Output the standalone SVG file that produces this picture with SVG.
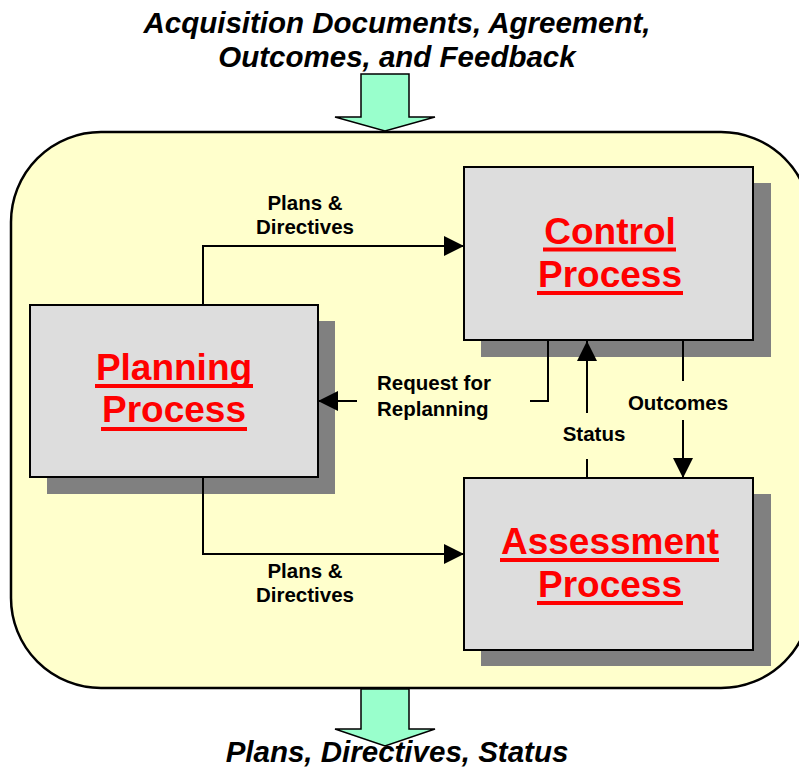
<svg xmlns="http://www.w3.org/2000/svg" width="799" height="767" viewBox="0 0 799 767">
<style>
.title{font-family:"Liberation Sans",Arial,sans-serif;font-weight:bold;font-style:italic;font-size:29.5px;fill:#000;text-anchor:middle}
.lbl{font-family:"Liberation Sans",Arial,sans-serif;font-weight:bold;font-size:20.5px;fill:#000}
.name{font-family:"Liberation Sans",Arial,sans-serif;font-weight:bold;font-size:37px;fill:#FF0000;text-anchor:middle}
.box{fill:#DDDDDD;stroke:#000;stroke-width:2}
.shadow{fill:#808080}
.ul{fill:#FF0000}
.ln{fill:none;stroke:#000;stroke-width:2}
.big{fill:#99FFCC;stroke:#000;stroke-width:1.5}
</style>
<defs>
<marker id="ah" viewBox="0 0 20 20" refX="20" refY="10" markerWidth="20" markerHeight="20" markerUnits="userSpaceOnUse" orient="auto">
<path d="M0,0 L20,10 L0,20 Z" fill="#000"/>
</marker>
</defs>
<rect x="11" y="132" width="800" height="556" rx="90" ry="90" fill="#FFFFCC" stroke="#000" stroke-width="2.5"/>
<g id="in-arrow">
<path class="big" d="M361,74 L409,74 L409,117 L435,117 L385,131 L335,117 L361,117 Z"/>
</g>
<g id="out-arrow">
<path class="big" d="M361,689 L409,689 L409,729 L435,729 L385,746 L335,729 L361,729 Z"/>
</g>
<text class="title" x="397" y="33">Acquisition Documents, Agreement,</text>
<text class="title" x="397" y="67">Outcomes, and Feedback</text>
<text class="title" x="397" y="762">Plans, Directives, Status</text>
<g id="control">
<rect class="shadow" x="481" y="183" width="290" height="174"/>
<rect class="box" x="464" y="167" width="289" height="173"/>
<text class="name" x="610" y="244">Control</text>
<rect class="ul" x="543" y="247.5" width="133" height="4"/>
<text class="name" x="610" y="287">Process</text>
<rect class="ul" x="537" y="291" width="146" height="4"/>
</g>
<g id="planning">
<rect class="shadow" x="47" y="321" width="288" height="173"/>
<rect class="box" x="30" y="305" width="288" height="172"/>
<text class="name" x="174" y="380">Planning</text>
<rect class="ul" x="95" y="384" width="158" height="4"/>
<text class="name" x="174" y="422">Process</text>
<rect class="ul" x="101" y="427" width="146" height="4"/>
</g>
<g id="assessment">
<rect class="shadow" x="481" y="494" width="290" height="172"/>
<rect class="box" x="464" y="478" width="289" height="172"/>
<text class="name" x="610" y="554">Assessment</text>
<rect class="ul" x="500" y="558" width="219" height="4"/>
<text class="name" x="610" y="597">Process</text>
<rect class="ul" x="537" y="601" width="146" height="4"/>
</g>
<g id="connectors">
<path class="ln" d="M203,305 L203,246 L464,246" marker-end="url(#ah)"/>
<path class="ln" d="M203,477 L203,554 L464,554" marker-end="url(#ah)"/>
<path class="ln" d="M548,340 L548,401 L530,401"/>
<path class="ln" d="M357,401 L318,401" marker-end="url(#ah)"/>
<path class="ln" d="M587,478 L587,459"/>
<path class="ln" d="M587,413 L587,341" marker-end="url(#ah)"/>
<path class="ln" d="M683,340 L683,381"/>
<path class="ln" d="M683,420 L683,478" marker-end="url(#ah)"/>
</g>
<g id="labels">
<text class="lbl" x="305" y="210" text-anchor="middle">Plans &amp;</text>
<text class="lbl" x="305" y="234" text-anchor="middle">Directives</text>
<text class="lbl" x="305" y="578" text-anchor="middle">Plans &amp;</text>
<text class="lbl" x="305" y="602" text-anchor="middle">Directives</text>
<text class="lbl" x="377" y="390">Request for</text>
<text class="lbl" x="377" y="416">Replanning</text>
<text class="lbl" x="594" y="441" text-anchor="middle">Status</text>
<text class="lbl" x="678" y="410" text-anchor="middle">Outcomes</text>
</g>
</svg>
